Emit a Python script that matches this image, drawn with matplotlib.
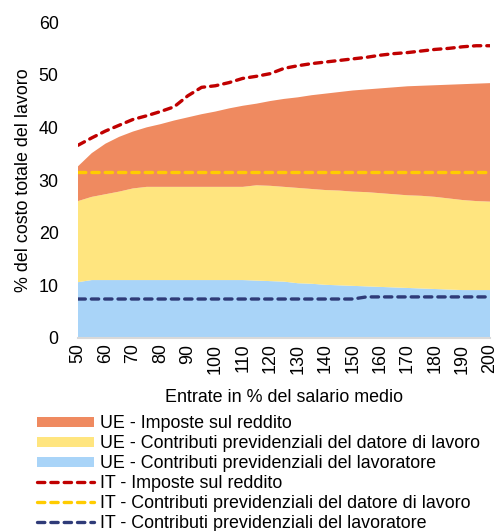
import matplotlib
matplotlib.use("Agg")
import matplotlib.pyplot as plt

plt.rcParams['font.family'] = ['Liberation Sans', 'DejaVu Sans']

# earnings as % of average wage
earnings = list(range(50, 201, 5))

# EU averages, % of total labour cost (stacked components)
ue_lavoratore = [10.6, 11.0, 11.0, 11.0, 11.0, 11.0, 11.0, 11.0, 11.0, 11.0, 11.0, 11.0, 11.0,
                 10.9, 10.8, 10.7, 10.4, 10.3, 10.1, 10.0, 9.9, 9.8, 9.7, 9.6, 9.5, 9.4,
                 9.3, 9.2, 9.1, 9.1, 9.1]
ue_datore = [15.4, 15.8, 16.3, 16.8, 17.4, 17.7, 17.7, 17.7, 17.7, 17.7, 17.7, 17.7, 17.7,
             18.1, 18.1, 18.0, 18.1, 18.0, 18.0, 18.0, 17.9, 17.9, 17.8, 17.7, 17.6, 17.6,
             17.5, 17.3, 17.1, 16.9, 16.8]
ue_imposte = [6.6, 8.3, 9.6, 10.4, 10.8, 11.3, 11.9, 12.6, 13.2, 13.8, 14.3, 14.9, 15.4,
              15.5, 16.1, 16.7, 17.2, 17.8, 18.3, 18.7, 19.2, 19.5, 19.9, 20.3, 20.7, 20.9,
              21.2, 21.6, 22.0, 22.3, 22.5]

# Italy, cumulative levels
it_lavoratore = [7.4] * 21 + [7.8] * 10
it_datore = [31.6] * 31
it_imposte = [36.6, 38.0, 39.3, 40.4, 41.5, 42.2, 43.0, 43.9, 46.0, 47.6, 47.9, 48.5, 49.3,
              49.7, 50.2, 51.2, 51.7, 52.1, 52.4, 52.7, 53.0, 53.3, 53.7, 54.0, 54.2, 54.5,
              54.8, 55.0, 55.3, 55.5, 55.5]

fs = 12.9

fig = plt.figure(figsize=(5.0, 5.31), dpi=100)
ax = fig.add_axes([0.156, 0.3635, 0.824, 0.595])

polys = ax.stackplot(earnings, ue_lavoratore, ue_datore, ue_imposte,
                     colors=['#A9D4F8', '#FFE57F', '#EF8A60'], linewidth=0)

dash_kw = dict(linewidth=2.4, dashes=(2.2, 1.8), dash_capstyle='round')
l1, = ax.plot(earnings, it_imposte, color='#C00000', **dash_kw)
l2, = ax.plot(earnings, it_datore, color='#FFCC00', **dash_kw)
l3, = ax.plot(earnings, it_lavoratore, color='#2F3B78', **dash_kw)

ax.set_xlim(50, 200)
ax.set_ylim(0, 60)
ax.set_xticks(range(50, 201, 10))
ax.set_xticklabels([str(v) for v in range(50, 201, 10)], rotation=90, fontsize=fs)
ax.set_yticks(range(0, 61, 10))
ax.tick_params(axis='y', labelsize=fs, length=0, pad=14)
ax.tick_params(axis='x', length=0, pad=4)
for s in ['top', 'right', 'left']:
    ax.spines[s].set_visible(False)
ax.spines['bottom'].set_color('#D9D9D9')
ax.spines['bottom'].set_linewidth(1.5)

ax.set_ylabel('% del costo totale del lavoro', fontsize=fs, labelpad=5)
ax.set_xlabel('Entrate in % del salario medio', fontsize=fs, labelpad=11)

handles = [polys[2], polys[1], polys[0], l1, l2, l3]
labels = ['UE - Imposte sul reddito',
          'UE - Contributi previdenziali del datore di lavoro',
          'UE - Contributi previdenziali del lavoratore',
          'IT - Imposte sul reddito',
          'IT - Contributi previdenziali del datore di lavoro',
          'IT - Contributi previdenziali del lavoratore']
fig.legend(handles, labels, loc='upper left', bbox_to_anchor=(0.074, 0.218),
           frameon=False, fontsize=fs, handlelength=3.2, handleheight=0.5,
           handletextpad=0.3, labelspacing=0.16, borderpad=0, borderaxespad=0)

fig.savefig('out.png', dpi=100)
